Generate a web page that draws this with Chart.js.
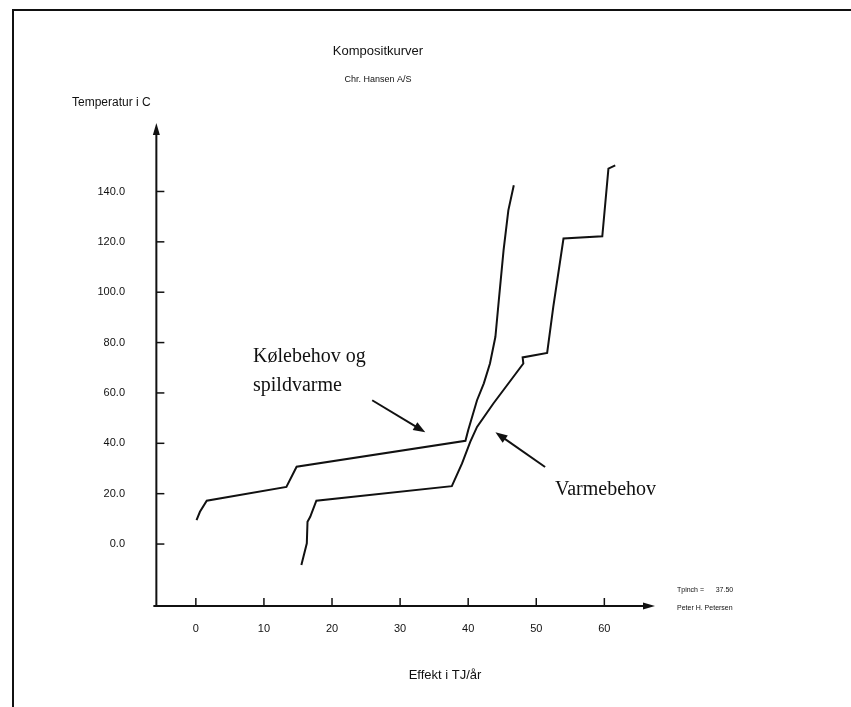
<!DOCTYPE html>
<html>
<head>
<meta charset="utf-8">
<title>Kompositkurver</title>
<script src="https://cdn.jsdelivr.net/npm/chart.js@4/dist/chart.umd.min.js"></script>
<style>
  html, body { margin: 0; padding: 0; background: #fff; }
  canvas { display: block; }
</style>
</head>
<body>
<canvas id="chart" width="851" height="707"></canvas>
<script>
// Kølebehov og spildvarme (cold composite) - effekt TJ/år, temperatur C
const coldX = [0.1, 0.6, 1.6, 13.3, 14.8, 39.6, 40.0, 41.3, 42.3, 43.2, 44.0, 44.5, 45.2, 45.9, 46.7];
const coldY = [9.5, 12.8, 17.2, 22.7, 30.7, 41.0, 45.2, 57.1, 63.8, 71.7, 82.3, 96.8, 116.7, 132.5, 142.5];

// Varmebehov (hot composite)
const hotX = [15.5, 16.3, 16.4, 16.8, 17.7, 37.6, 39.1, 40.3, 41.3, 43.7, 48.1, 48.0, 51.6, 52.5, 54.0, 59.7, 60.6, 61.6];
const hotY = [-8.3, 0.3, 8.8, 10.8, 17.2, 23.0, 32.0, 40.6, 46.5, 55.8, 71.7, 74.1, 75.9, 94.2, 121.3, 122.2, 149.1, 150.4];

// tick labels
const xTicks = [0, 10, 20, 30, 40, 50, 60];
const yTicks = [0, 20, 40, 60, 80, 100, 120, 140];

function toPoints(xs, ys) {
    return xs.map((x, i) => ({ x: x, y: ys[i] }));
}

// draws a filled arrow head at (x2,y2) pointing from (x1,y1)
function arrowHead(ctx, x1, y1, x2, y2, len, wid) {
    const a = Math.atan2(y2 - y1, x2 - x1);
    ctx.beginPath();
    ctx.moveTo(x2, y2);
    ctx.lineTo(x2 - len * Math.cos(a) + wid * Math.sin(a), y2 - len * Math.sin(a) - wid * Math.cos(a));
    ctx.lineTo(x2 - len * Math.cos(a) - wid * Math.sin(a), y2 - len * Math.sin(a) + wid * Math.cos(a));
    ctx.closePath();
    ctx.fill();
}

const decor = {
    id: 'decor',
    afterDraw(chart) {
        const ctx = chart.ctx;
        const xs = chart.scales.x, ys = chart.scales.y;
        const area = chart.chartArea;
        const ax = xs.getPixelForValue(-5.8);
        const ay = ys.getPixelForValue(-24.6);
        ctx.save();
        ctx.strokeStyle = '#111';
        ctx.fillStyle = '#111';

        // frame of the scanned page
        ctx.lineWidth = 2;
        ctx.beginPath();
        ctx.moveTo(13, 707);
        ctx.lineTo(13, 10);
        ctx.lineTo(851, 10);
        ctx.stroke();

        // axes
        ctx.lineWidth = 2;
        ctx.beginPath();
        ctx.moveTo(ax, ay);
        ctx.lineTo(ax, area.top + 8);
        ctx.moveTo(ax - 3, ay);
        ctx.lineTo(area.right - 6, ay);
        ctx.stroke();
        arrowHead(ctx, ax, ay, ax, area.top - 3, 12, 3.5);
        arrowHead(ctx, ax, ay, area.right + 3, ay, 12, 3.5);

        // ticks + labels
        ctx.lineWidth = 1.5;
        ctx.font = '11px "Liberation Sans", Arial, sans-serif';
        ctx.textBaseline = 'middle';
        ctx.textAlign = 'right';
        yTicks.forEach(v => {
            const py = ys.getPixelForValue(v);
            ctx.beginPath();
            ctx.moveTo(ax, py);
            ctx.lineTo(ax + 8, py);
            ctx.stroke();
            ctx.fillText(v.toFixed(1), 125, py);
        });
        ctx.textAlign = 'center';
        xTicks.forEach(v => {
            const px = xs.getPixelForValue(v);
            ctx.beginPath();
            ctx.moveTo(px, ay);
            ctx.lineTo(px, ay - 8);
            ctx.stroke();
            ctx.fillText(String(v), px, ay + 23);
        });

        // titles
        ctx.font = '13px "Liberation Sans", Arial, sans-serif';
        ctx.fillText('Kompositkurver', 378, 51);
        ctx.font = '9px "Liberation Sans", Arial, sans-serif';
        ctx.fillText('Chr. Hansen A/S', 378, 80);
        ctx.font = '12px "Liberation Sans", Arial, sans-serif';
        ctx.textAlign = 'left';
        ctx.fillText('Temperatur i C', 72, 103);
        ctx.font = '13px "Liberation Sans", Arial, sans-serif';
        ctx.textAlign = 'center';
        ctx.fillText('Effekt i TJ/år', 445, 675);

        // small notes lower right
        ctx.font = '7px "Liberation Sans", Arial, sans-serif';
        ctx.textAlign = 'left';
        ctx.fillText('Tpinch =      37.50', 677, 590);
        ctx.fillText('Peter H. Petersen', 677, 608);

        // annotations
        ctx.font = '20px "Liberation Serif", "Times New Roman", serif';
        ctx.fillText('Kølebehov og', 253, 357);
        ctx.fillText('spildvarme', 253, 386);
        ctx.fillText('Varmebehov', 555, 490);

        ctx.lineWidth = 2;
        const arrows = [[25.9, 57.1, 33.7, 44.4], [51.3, 30.6, 44.0, 44.4]];
        arrows.forEach(a => {
            const x1 = xs.getPixelForValue(a[0]), y1 = ys.getPixelForValue(a[1]);
            const x2 = xs.getPixelForValue(a[2]), y2 = ys.getPixelForValue(a[3]);
            const ang = Math.atan2(y2 - y1, x2 - x1);
            ctx.beginPath();
            ctx.moveTo(x1, y1);
            ctx.lineTo(x2 - 8 * Math.cos(ang), y2 - 8 * Math.sin(ang));
            ctx.stroke();
            arrowHead(ctx, x1, y1, x2, y2, 12, 4.5);
        });
        ctx.restore();
    }
};

new Chart(document.getElementById('chart').getContext('2d'), {
    type: 'scatter',
    data: {
        datasets: [
            {
                label: 'Kølebehov og spildvarme',
                data: toPoints(coldX, coldY),
                showLine: true,
                borderColor: '#111',
                borderWidth: 2,
                pointRadius: 0,
                tension: 0,
            },
            {
                label: 'Varmebehov',
                data: toPoints(hotX, hotY),
                showLine: true,
                borderColor: '#111',
                borderWidth: 2,
                pointRadius: 0,
                tension: 0,
            },
        ],
    },
    options: {
        responsive: false,
        animation: false,
        layout: {
            padding: { left: 155, right: 199, top: 126, bottom: 100 },
        },
        scales: {
            x: { type: 'linear', min: -6, max: 67, display: false },
            y: { type: 'linear', min: -25, max: 166, display: false },
        },
        plugins: {
            legend: { display: false },
            tooltip: { enabled: false },
        },
    },
    plugins: [decor],
});
</script>
</body>
</html>
